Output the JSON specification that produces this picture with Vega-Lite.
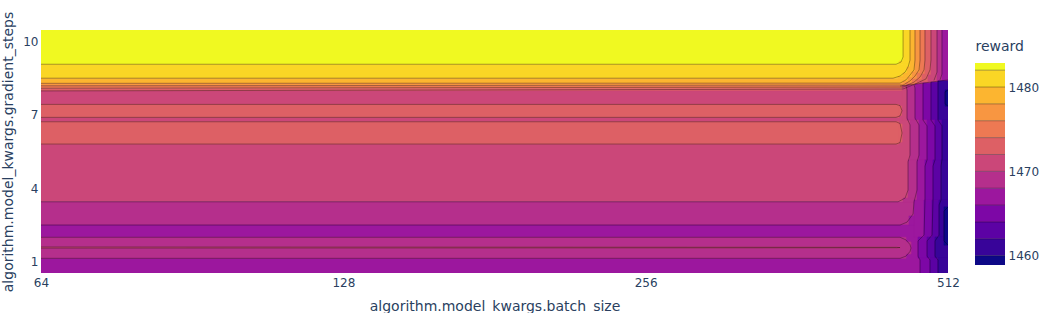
{
  "$schema": "https://vega.github.io/schema/vega-lite/v6.json",
  "padding": {"left": 1, "top": 11, "right": 0, "bottom": 0},
  "background": "white",
  "bounds": "flush",
  "spacing": 27,
  "config": {
    "view": {"stroke": null},
    "font": "DejaVu Sans",
    "axis": {"labelFont": "DejaVu Sans", "titleFont": "DejaVu Sans", "labelColor": "#2a3f5f", "titleColor": "#2a3f5f", "labelFontSize": 12, "titleFontSize": 14, "titleFontWeight": "normal", "grid": false, "domain": false, "ticks": false}
  },
  "datasets": {
    "fills": [
      {"bs": 64, "bs2": 512, "gs": 10.46, "gs2": 9.06, "reward": 1482.5},
      {"bs": 64, "bs2": 512, "gs": 9.06, "gs2": 8.49, "reward": 1481},
      {"bs": 64, "bs2": 512, "gs": 8.49, "gs2": 8.28, "reward": 1479},
      {"bs": 64, "bs2": 512, "gs": 8.28, "gs2": 8.18, "reward": 1477},
      {"bs": 64, "bs2": 512, "gs": 8.18, "gs2": 8.08, "reward": 1475},
      {"bs": 64, "bs2": 512, "gs": 8.08, "gs2": 7.97, "reward": 1473},
      {"bs": 64, "bs2": 512, "gs": 7.97, "gs2": 3.44, "reward": 1471},
      {"bs": 64, "bs2": 457.6, "gs": 7.42, "gs2": 6.89, "reward": 1473},
      {"bs": 457.6, "bs2": 460.8, "gs": 7.35, "gs2": 6.97, "reward": 1473},
      {"bs": 64, "bs2": 457.6, "gs": 6.71, "gs2": 5.80, "reward": 1473},
      {"bs": 457.6, "bs2": 460.8, "gs": 6.62, "gs2": 5.88, "reward": 1473},
      {"bs": 64, "bs2": 512, "gs": 3.44, "gs2": 2.49, "reward": 1469},
      {"bs": 64, "bs2": 512, "gs": 2.49, "gs2": 0.53, "reward": 1467},
      {"bs": 64, "bs2": 465.0, "gs": 1.99, "gs2": 1.13, "reward": 1469},
      {"bs": 465.0, "bs2": 470.4, "gs": 1.80, "gs2": 1.31, "reward": 1469},
      {"bs": 64, "bs2": 458.7, "gs": 1.59, "gs2": 1.55, "reward": 1471},
      {"bs": 461.9, "bs2": 512, "gs": 10.46, "gs2": 9.06, "reward": 1481},
      {"bs": 457.6, "bs2": 512, "gs": 9.19, "gs2": 9.06, "reward": 1481},
      {"bs": 456.6, "bs2": 512, "gs": 8.56, "gs2": 8.49, "reward": 1479},
      {"bs": 461.9, "bs2": 512, "gs": 8.70, "gs2": 8.49, "reward": 1479},
      {"bs": 466.1, "bs2": 512, "gs": 8.95, "gs2": 8.49, "reward": 1479},
      {"bs": 469.3, "bs2": 512, "gs": 10.46, "gs2": 8.49, "reward": 1479},
      {"bs": 461.9, "bs2": 512, "gs": 8.36, "gs2": 8.28, "reward": 1477},
      {"bs": 467.2, "bs2": 512, "gs": 8.52, "gs2": 8.28, "reward": 1477},
      {"bs": 471.5, "bs2": 512, "gs": 8.74, "gs2": 8.28, "reward": 1477},
      {"bs": 474.7, "bs2": 512, "gs": 10.46, "gs2": 8.28, "reward": 1477},
      {"bs": 465.0, "bs2": 512, "gs": 8.29, "gs2": 8.18, "reward": 1475},
      {"bs": 471.5, "bs2": 512, "gs": 8.46, "gs2": 8.18, "reward": 1475},
      {"bs": 476.9, "bs2": 512, "gs": 8.70, "gs2": 8.18, "reward": 1475},
      {"bs": 480.2, "bs2": 512, "gs": 10.46, "gs2": 8.18, "reward": 1475},
      {"bs": 467.2, "bs2": 512, "gs": 8.21, "gs2": 8.08, "reward": 1473},
      {"bs": 476.9, "bs2": 512, "gs": 8.42, "gs2": 8.08, "reward": 1473},
      {"bs": 482.4, "bs2": 512, "gs": 8.66, "gs2": 8.08, "reward": 1473},
      {"bs": 485.7, "bs2": 512, "gs": 10.46, "gs2": 8.08, "reward": 1473},
      {"bs": 468.2, "bs2": 512, "gs": 8.13, "gs2": 7.97, "reward": 1471},
      {"bs": 480.2, "bs2": 512, "gs": 8.33, "gs2": 7.97, "reward": 1471},
      {"bs": 489.1, "bs2": 512, "gs": 8.62, "gs2": 7.97, "reward": 1471},
      {"bs": 492.4, "bs2": 512, "gs": 10.46, "gs2": 7.97, "reward": 1471},
      {"bs": 499.3, "bs2": 512, "gs": 10.46, "gs2": 7.97, "reward": 1469},
      {"bs": 505.0, "bs2": 512, "gs": 10.46, "gs2": 7.97, "reward": 1467},
      {"bs": 461.0, "bs2": 466.1, "gs": 8.19, "gs2": 6.78, "reward": 1471},
      {"bs": 466.1, "bs2": 474.7, "gs": 8.21, "gs2": 6.78, "reward": 1469},
      {"bs": 474.7, "bs2": 483.5, "gs": 8.25, "gs2": 6.78, "reward": 1467},
      {"bs": 483.5, "bs2": 492.4, "gs": 8.29, "gs2": 6.78, "reward": 1465},
      {"bs": 492.4, "bs2": 500.4, "gs": 8.33, "gs2": 6.78, "reward": 1463},
      {"bs": 500.4, "bs2": 512, "gs": 8.38, "gs2": 6.78, "reward": 1461},
      {"bs": 508.5, "bs2": 512, "gs": 8.01, "gs2": 7.35, "reward": 1459.5},
      {"bs": 469.3, "bs2": 479.1, "gs": 6.78, "gs2": 5.15, "reward": 1469},
      {"bs": 479.1, "bs2": 488.0, "gs": 6.78, "gs2": 5.15, "reward": 1467},
      {"bs": 488.0, "bs2": 497.0, "gs": 6.78, "gs2": 5.15, "reward": 1465},
      {"bs": 497.0, "bs2": 505.0, "gs": 6.78, "gs2": 5.15, "reward": 1463},
      {"bs": 505.0, "bs2": 512, "gs": 6.78, "gs2": 5.15, "reward": 1461},
      {"bs": 467.2, "bs2": 476.9, "gs": 5.15, "gs2": 3.51, "reward": 1469},
      {"bs": 476.9, "bs2": 485.7, "gs": 5.15, "gs2": 3.51, "reward": 1467},
      {"bs": 485.7, "bs2": 494.7, "gs": 5.15, "gs2": 3.51, "reward": 1465},
      {"bs": 494.7, "bs2": 503.9, "gs": 5.15, "gs2": 3.51, "reward": 1463},
      {"bs": 503.9, "bs2": 512, "gs": 5.15, "gs2": 3.51, "reward": 1461},
      {"bs": 461.9, "bs2": 473.6, "gs": 3.59, "gs2": 3.43, "reward": 1469},
      {"bs": 473.6, "bs2": 484.6, "gs": 3.51, "gs2": 2.00, "reward": 1467},
      {"bs": 468.2, "bs2": 473.6, "gs": 2.86, "gs2": 2.49, "reward": 1467},
      {"bs": 484.6, "bs2": 493.6, "gs": 3.51, "gs2": 2.00, "reward": 1465},
      {"bs": 493.6, "bs2": 501.6, "gs": 3.51, "gs2": 2.00, "reward": 1463},
      {"bs": 501.6, "bs2": 512, "gs": 3.51, "gs2": 2.00, "reward": 1461},
      {"bs": 478.0, "bs2": 488.0, "gs": 2.00, "gs2": 1.14, "reward": 1465},
      {"bs": 488.0, "bs2": 497.0, "gs": 2.00, "gs2": 1.14, "reward": 1463},
      {"bs": 497.0, "bs2": 512, "gs": 2.00, "gs2": 1.14, "reward": 1461},
      {"bs": 480.2, "bs2": 491.3, "gs": 1.14, "gs2": 0.53, "reward": 1465},
      {"bs": 491.3, "bs2": 500.4, "gs": 1.14, "gs2": 0.53, "reward": 1463},
      {"bs": 500.4, "bs2": 512, "gs": 1.14, "gs2": 0.53, "reward": 1461},
      {"bs": 507.3, "bs2": 512, "gs": 3.23, "gs2": 1.67, "reward": 1459.5}
    ],
    "lines": [
      {"cid": "c1", "ord": 1, "bs": 64, "gs": 9.06}, {"cid": "c1", "ord": 2, "bs": 454.5, "gs": 9.06}, {"cid": "c1", "ord": 3, "bs": 459.7, "gs": 9.15}, {"cid": "c1", "ord": 4, "bs": 461.9, "gs": 9.36}, {"cid": "c1", "ord": 5, "bs": 461.9, "gs": 10.46},
      {"cid": "c2", "ord": 1, "bs": 64, "gs": 8.49}, {"cid": "c2", "ord": 2, "bs": 451.4, "gs": 8.49}, {"cid": "c2", "ord": 3, "bs": 458.7, "gs": 8.58}, {"cid": "c2", "ord": 4, "bs": 464.0, "gs": 8.74}, {"cid": "c2", "ord": 5, "bs": 467.2, "gs": 8.95}, {"cid": "c2", "ord": 6, "bs": 469.3, "gs": 9.23}, {"cid": "c2", "ord": 7, "bs": 469.3, "gs": 10.46},
      {"cid": "c3", "ord": 1, "bs": 64, "gs": 8.28}, {"cid": "c3", "ord": 2, "bs": 458.7, "gs": 8.29}, {"cid": "c3", "ord": 3, "bs": 465.0, "gs": 8.42}, {"cid": "c3", "ord": 4, "bs": 469.3, "gs": 8.62}, {"cid": "c3", "ord": 5, "bs": 473.6, "gs": 8.83}, {"cid": "c3", "ord": 6, "bs": 474.7, "gs": 9.23}, {"cid": "c3", "ord": 7, "bs": 474.7, "gs": 10.46},
      {"cid": "c4", "ord": 1, "bs": 64, "gs": 8.18}, {"cid": "c4", "ord": 2, "bs": 461.9, "gs": 8.21}, {"cid": "c4", "ord": 3, "bs": 469.3, "gs": 8.38}, {"cid": "c4", "ord": 4, "bs": 474.7, "gs": 8.58}, {"cid": "c4", "ord": 5, "bs": 479.1, "gs": 8.83}, {"cid": "c4", "ord": 6, "bs": 480.2, "gs": 9.23}, {"cid": "c4", "ord": 7, "bs": 480.2, "gs": 10.46},
      {"cid": "c5", "ord": 1, "bs": 64, "gs": 8.08}, {"cid": "c5", "ord": 2, "bs": 461.9, "gs": 8.13}, {"cid": "c5", "ord": 3, "bs": 473.6, "gs": 8.33}, {"cid": "c5", "ord": 4, "bs": 480.2, "gs": 8.54}, {"cid": "c5", "ord": 5, "bs": 484.6, "gs": 8.83}, {"cid": "c5", "ord": 6, "bs": 485.7, "gs": 9.23}, {"cid": "c5", "ord": 7, "bs": 485.7, "gs": 10.46},
      {"cid": "c6", "ord": 1, "bs": 64, "gs": 7.97}, {"cid": "c6", "ord": 2, "bs": 461.9, "gs": 8.05}, {"cid": "c6", "ord": 3, "bs": 474.7, "gs": 8.25}, {"cid": "c6", "ord": 4, "bs": 486.8, "gs": 8.46}, {"cid": "c6", "ord": 5, "bs": 491.3, "gs": 8.83}, {"cid": "c6", "ord": 6, "bs": 492.4, "gs": 9.23}, {"cid": "c6", "ord": 7, "bs": 492.4, "gs": 10.46},
      {"cid": "c7", "ord": 1, "bs": 499.3, "gs": 10.46}, {"cid": "c7", "ord": 2, "bs": 499.3, "gs": 8.74}, {"cid": "c7", "ord": 3, "bs": 495.8, "gs": 8.40},
      {"cid": "c8", "ord": 1, "bs": 505.0, "gs": 10.46}, {"cid": "c8", "ord": 2, "bs": 505.0, "gs": 8.66}, {"cid": "c8", "ord": 3, "bs": 502.7, "gs": 8.42},
      {"cid": "ridge", "ord": 1, "bs": 458.7, "gs": 8.17}, {"cid": "ridge", "ord": 2, "bs": 512, "gs": 8.42},
      {"cid": "b1", "ord": 1, "bs": 64, "gs": 7.42}, {"cid": "b1", "ord": 2, "bs": 454.5, "gs": 7.42}, {"cid": "b1", "ord": 3, "bs": 458.7, "gs": 7.37}, {"cid": "b1", "ord": 4, "bs": 460.8, "gs": 7.16}, {"cid": "b1", "ord": 5, "bs": 458.7, "gs": 6.95}, {"cid": "b1", "ord": 6, "bs": 454.5, "gs": 6.89}, {"cid": "b1", "ord": 7, "bs": 64, "gs": 6.89},
      {"cid": "b2", "ord": 1, "bs": 64, "gs": 6.71}, {"cid": "b2", "ord": 2, "bs": 454.5, "gs": 6.71}, {"cid": "b2", "ord": 3, "bs": 458.7, "gs": 6.64}, {"cid": "b2", "ord": 4, "bs": 460.8, "gs": 6.25}, {"cid": "b2", "ord": 5, "bs": 458.7, "gs": 5.86}, {"cid": "b2", "ord": 6, "bs": 454.5, "gs": 5.80}, {"cid": "b2", "ord": 7, "bs": 64, "gs": 5.80},
      {"cid": "c9", "ord": 1, "bs": 64, "gs": 3.44}, {"cid": "c9", "ord": 2, "bs": 456.6, "gs": 3.44}, {"cid": "c9", "ord": 3, "bs": 464.0, "gs": 3.59}, {"cid": "c9", "ord": 4, "bs": 467.2, "gs": 3.92}, {"cid": "c9", "ord": 5, "bs": 467.2, "gs": 5.07}, {"cid": "c9", "ord": 6, "bs": 469.3, "gs": 5.35}, {"cid": "c9", "ord": 7, "bs": 469.3, "gs": 6.58}, {"cid": "c9", "ord": 8, "bs": 466.1, "gs": 6.86}, {"cid": "c9", "ord": 9, "bs": 466.1, "gs": 8.01}, {"cid": "c9", "ord": 10, "bs": 465.0, "gs": 8.17},
      {"cid": "c10", "ord": 1, "bs": 64, "gs": 2.49}, {"cid": "c10", "ord": 2, "bs": 458.7, "gs": 2.49}, {"cid": "c10", "ord": 3, "bs": 466.1, "gs": 2.61}, {"cid": "c10", "ord": 4, "bs": 472.6, "gs": 2.94}, {"cid": "c10", "ord": 5, "bs": 473.6, "gs": 3.43}, {"cid": "c10", "ord": 6, "bs": 476.9, "gs": 3.92}, {"cid": "c10", "ord": 7, "bs": 476.9, "gs": 5.07}, {"cid": "c10", "ord": 8, "bs": 479.1, "gs": 5.35}, {"cid": "c10", "ord": 9, "bs": 479.1, "gs": 6.58}, {"cid": "c10", "ord": 10, "bs": 474.7, "gs": 6.86}, {"cid": "c10", "ord": 11, "bs": 474.7, "gs": 8.09}, {"cid": "c10", "ord": 12, "bs": 473.6, "gs": 8.22},
      {"cid": "c11", "ord": 1, "bs": 64, "gs": 1.99}, {"cid": "c11", "ord": 2, "bs": 458.7, "gs": 1.99}, {"cid": "c11", "ord": 3, "bs": 465.0, "gs": 1.88}, {"cid": "c11", "ord": 4, "bs": 469.3, "gs": 1.69}, {"cid": "c11", "ord": 5, "bs": 470.4, "gs": 1.55}, {"cid": "c11", "ord": 6, "bs": 469.3, "gs": 1.41}, {"cid": "c11", "ord": 7, "bs": 465.0, "gs": 1.22}, {"cid": "c11", "ord": 8, "bs": 458.7, "gs": 1.13}, {"cid": "c11", "ord": 9, "bs": 64, "gs": 1.13},
      {"cid": "c12", "ord": 1, "bs": 64, "gs": 1.595}, {"cid": "c12", "ord": 2, "bs": 455, "gs": 1.58}, {"cid": "c12", "ord": 3, "bs": 458.7, "gs": 1.57}, {"cid": "c12", "ord": 4, "bs": 455, "gs": 1.56}, {"cid": "c12", "ord": 5, "bs": 64, "gs": 1.545},
      {"cid": "c13", "ord": 1, "bs": 483.5, "gs": 8.29}, {"cid": "c13", "ord": 2, "bs": 483.5, "gs": 6.78}, {"cid": "c13", "ord": 3, "bs": 488.0, "gs": 6.54}, {"cid": "c13", "ord": 4, "bs": 488.0, "gs": 5.15}, {"cid": "c13", "ord": 5, "bs": 485.7, "gs": 4.90}, {"cid": "c13", "ord": 6, "bs": 485.7, "gs": 3.51}, {"cid": "c13", "ord": 7, "bs": 484.6, "gs": 2.08}, {"cid": "c13", "ord": 8, "bs": 478.0, "gs": 1.84}, {"cid": "c13", "ord": 9, "bs": 478.0, "gs": 1.22}, {"cid": "c13", "ord": 10, "bs": 480.2, "gs": 1.06}, {"cid": "c13", "ord": 11, "bs": 480.2, "gs": 0.53},
      {"cid": "c14", "ord": 1, "bs": 492.4, "gs": 8.33}, {"cid": "c14", "ord": 2, "bs": 492.4, "gs": 6.78}, {"cid": "c14", "ord": 3, "bs": 497.0, "gs": 6.54}, {"cid": "c14", "ord": 4, "bs": 497.0, "gs": 5.15}, {"cid": "c14", "ord": 5, "bs": 494.7, "gs": 4.90}, {"cid": "c14", "ord": 6, "bs": 494.7, "gs": 3.51}, {"cid": "c14", "ord": 7, "bs": 493.6, "gs": 2.08}, {"cid": "c14", "ord": 8, "bs": 488.0, "gs": 1.84}, {"cid": "c14", "ord": 9, "bs": 488.0, "gs": 1.22}, {"cid": "c14", "ord": 10, "bs": 491.3, "gs": 1.06}, {"cid": "c14", "ord": 11, "bs": 491.3, "gs": 0.53},
      {"cid": "c15", "ord": 1, "bs": 500.4, "gs": 8.38}, {"cid": "c15", "ord": 2, "bs": 500.4, "gs": 6.78}, {"cid": "c15", "ord": 3, "bs": 505.0, "gs": 6.54}, {"cid": "c15", "ord": 4, "bs": 505.0, "gs": 5.15}, {"cid": "c15", "ord": 5, "bs": 503.9, "gs": 4.90}, {"cid": "c15", "ord": 6, "bs": 503.9, "gs": 3.51}, {"cid": "c15", "ord": 7, "bs": 501.6, "gs": 3.31}, {"cid": "c15", "ord": 8, "bs": 501.6, "gs": 2.08}, {"cid": "c15", "ord": 9, "bs": 497.0, "gs": 1.84}, {"cid": "c15", "ord": 10, "bs": 497.0, "gs": 1.22}, {"cid": "c15", "ord": 11, "bs": 500.4, "gs": 1.06}, {"cid": "c15", "ord": 12, "bs": 500.4, "gs": 0.53},
      {"cid": "c16", "ord": 1, "bs": 512, "gs": 8.01}, {"cid": "c16", "ord": 2, "bs": 508.5, "gs": 7.93}, {"cid": "c16", "ord": 3, "bs": 508.5, "gs": 7.44}, {"cid": "c16", "ord": 4, "bs": 512, "gs": 7.35},
      {"cid": "c17", "ord": 1, "bs": 512, "gs": 3.23}, {"cid": "c17", "ord": 2, "bs": 507.3, "gs": 3.06}, {"cid": "c17", "ord": 3, "bs": 507.3, "gs": 1.84}, {"cid": "c17", "ord": 4, "bs": 512, "gs": 1.67}
    ],
    "cbar": [
      {"lo": 1482, "hi": 1482.85, "reward": 1482.5},
      {"lo": 1480, "hi": 1482, "reward": 1481},
      {"lo": 1478, "hi": 1480, "reward": 1479},
      {"lo": 1476, "hi": 1478, "reward": 1477},
      {"lo": 1474, "hi": 1476, "reward": 1475},
      {"lo": 1472, "hi": 1474, "reward": 1473},
      {"lo": 1470, "hi": 1472, "reward": 1471},
      {"lo": 1468, "hi": 1470, "reward": 1469},
      {"lo": 1466, "hi": 1468, "reward": 1467},
      {"lo": 1464, "hi": 1466, "reward": 1465},
      {"lo": 1462, "hi": 1464, "reward": 1463},
      {"lo": 1460, "hi": 1462, "reward": 1461},
      {"lo": 1458.9, "hi": 1460, "reward": 1459.5}
    ],
    "cbarlines": [
      {"level": 1460}, {"level": 1462}, {"level": 1464}, {"level": 1466}, {"level": 1468}, {"level": 1470},
      {"level": 1472}, {"level": 1474}, {"level": 1476}, {"level": 1478}, {"level": 1480}, {"level": 1482}
    ]
  },
  "hconcat": [
    {
      "width": 907,
      "height": 243,
      "layer": [
        {
          "data": {"name": "fills"},
          "mark": {"type": "rect", "clip": true, "strokeWidth": 0.6},
          "encoding": {
            "x": {"field": "bs", "type": "quantitative", "scale": {"type": "log", "base": 2, "domain": [64, 512], "nice": false},
                  "axis": {"values": [64, 128, 256, 512], "format": "d", "labelFlush": false, "labelPadding": 4, "titlePadding": 11, "title": "algorithm.model_kwargs.batch_size"}},
            "x2": {"field": "bs2"},
            "y": {"field": "gs", "type": "quantitative", "scale": {"domain": [0.53, 10.46], "nice": false, "zero": false},
                  "axis": {"values": [1, 4, 7, 10], "labelPadding": 3, "titlePadding": 7, "labelFlush": false, "title": "algorithm.model_kwargs.gradient_steps"}},
            "y2": {"field": "gs2"},
            "color": {"field": "reward", "type": "quantitative", "legend": null,
                      "scale": {"type": "threshold", "domain": [1460, 1462, 1464, 1466, 1468, 1470, 1472, 1474, 1476, 1478, 1480, 1482],
                                "range": ["#0d0887", "#380499", "#5c02a4", "#7d07a6", "#9c179e", "#b52f8c", "#cb4779", "#dd6065", "#ed7953", "#f89641", "#fcb530", "#fad625", "#f0f921"]}},
            "stroke": {"field": "reward", "type": "quantitative", "legend": null,
                      "scale": {"type": "threshold", "domain": [1460, 1462, 1464, 1466, 1468, 1470, 1472, 1474, 1476, 1478, 1480, 1482],
                                "range": ["#0d0887", "#380499", "#5c02a4", "#7d07a6", "#9c179e", "#b52f8c", "#cb4779", "#dd6065", "#ed7953", "#f89641", "#fcb530", "#fad625", "#f0f921"]}}
          }
        },
        {
          "data": {"name": "lines"},
          "mark": {"type": "line", "clip": true, "stroke": "#000000", "strokeWidth": 0.6, "opacity": 0.55},
          "encoding": {
            "x": {"field": "bs", "type": "quantitative"},
            "y": {"field": "gs", "type": "quantitative"},
            "detail": {"field": "cid"},
            "order": {"field": "ord"}
          }
        }
      ]
    },
    {
      "width": 30,
      "height": 243,
      "layer": [
        {
          "data": {"name": "cbar"},
          "mark": {"type": "rect"},
          "encoding": {
            "y": {"field": "lo", "type": "quantitative", "scale": {"domain": [1457.95, 1486.76], "nice": false, "zero": false},
                  "axis": {"orient": "right", "values": [1460, 1470, 1480], "format": "d", "labelPadding": 3, "labelFlush": false, "title": "reward", "titleAngle": 0, "titleAlign": "left", "titleBaseline": "alphabetic", "titleX": -30, "titleY": 20}},
            "y2": {"field": "hi"},
            "color": {"field": "reward", "type": "quantitative", "legend": null,
                      "scale": {"type": "threshold", "domain": [1460, 1462, 1464, 1466, 1468, 1470, 1472, 1474, 1476, 1478, 1480, 1482],
                                "range": ["#0d0887", "#380499", "#5c02a4", "#7d07a6", "#9c179e", "#b52f8c", "#cb4779", "#dd6065", "#ed7953", "#f89641", "#fcb530", "#fad625", "#f0f921"]}}
          }
        },
        {
          "data": {"name": "cbarlines"},
          "mark": {"type": "rule", "stroke": "#000000", "strokeWidth": 0.6, "opacity": 0.55},
          "encoding": {"y": {"field": "level", "type": "quantitative"}}
        }
      ]
    }
  ]
}
